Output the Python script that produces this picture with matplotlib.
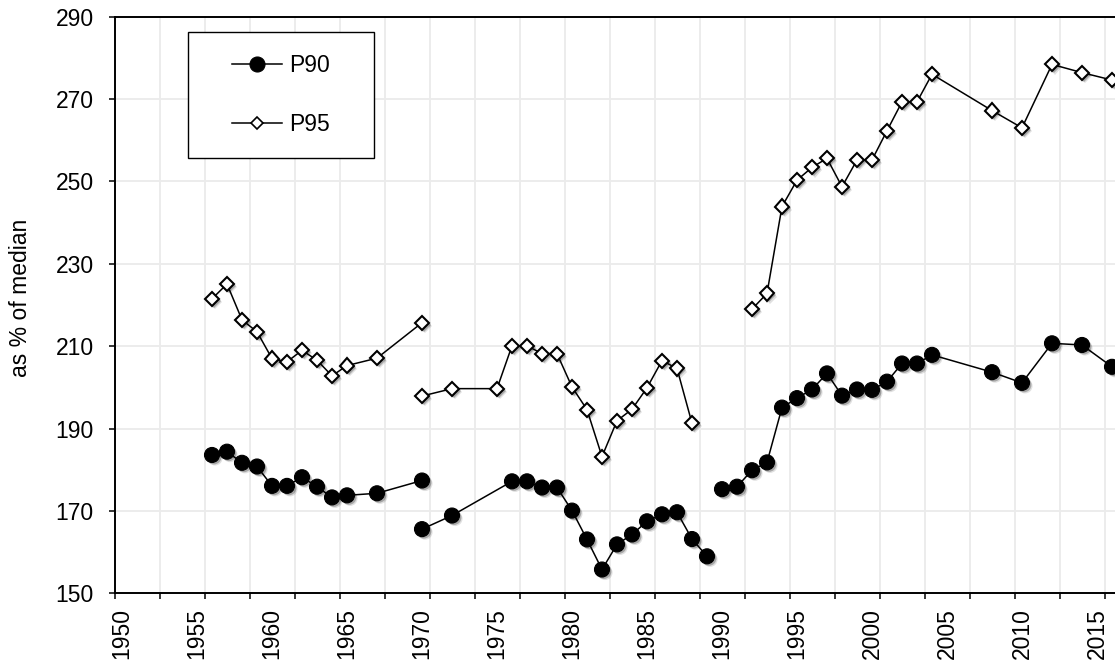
import numpy as np
import matplotlib
matplotlib.use("Agg")
import matplotlib.pyplot as plt
import matplotlib.patheffects as pe
import matplotlib.transforms as mtransforms
from matplotlib.lines import Line2D
from matplotlib.patches import Rectangle
from matplotlib.ticker import MultipleLocator, FixedLocator, NullFormatter

plt.rcParams['font.family'] = ['Liberation Sans', 'DejaVu Sans']

# ---------------- data ----------------
p90_years_1 = [1956, 1957, 1958, 1959, 1960, 1961, 1962, 1963, 1964, 1965, 1967, 1970]
p90_vals_1 = [183.6, 184.4, 181.7, 180.8, 176.1, 176.1, 178.2, 175.9, 173.3, 173.8, 174.3, 177.4]
p95_years_1 = [1956, 1957, 1958, 1959, 1960, 1961, 1962, 1963, 1964, 1965, 1967, 1970]
p95_vals_1 = [221.5, 225.1, 216.4, 213.5, 207.0, 206.2, 209.0, 206.6, 202.8, 205.3, 207.1, 215.7]

p90_years_2 = [1970, 1972, 1976, 1977, 1978, 1979, 1980, 1981, 1982, 1983, 1984, 1985,
               1986, 1987, 1988, 1989]
p90_vals_2 = [165.6, 168.9, 177.2, 177.2, 175.7, 175.7, 170.1, 163.1, 155.8, 161.9, 164.3,
              167.5, 169.2, 169.7, 163.2, 159.0]
p95_years_2 = [1970, 1972, 1975, 1976, 1977, 1978, 1979, 1980, 1981, 1982, 1983, 1984,
               1985, 1986, 1987, 1988]
p95_vals_2 = [197.9, 199.7, 199.7, 210.1, 210.1, 208.2, 208.2, 200.1, 194.6, 183.2, 191.9,
              194.7, 199.9, 206.5, 204.6, 191.3]

p90_years_3 = [1990, 1991, 1992, 1993, 1994, 1995, 1996, 1997, 1998, 1999, 2000, 2001,
               2002, 2003, 2004, 2008, 2010, 2012, 2014, 2016]
p90_vals_3 = [175.3, 175.9, 179.9, 181.8, 195.1, 197.4, 199.5, 203.4, 198.0, 199.5, 199.4,
              201.4, 205.8, 205.8, 207.9, 203.7, 201.1, 210.7, 210.3, 205.0]
p95_years_3 = [1992, 1993, 1994, 1995, 1996, 1997, 1998, 1999, 2000, 2001, 2002, 2003,
               2004, 2008, 2010, 2012, 2014, 2016]
p95_vals_3 = [219.0, 222.8, 243.9, 250.3, 253.4, 255.6, 248.7, 255.2, 255.2, 262.3, 269.3,
              269.3, 276.0, 267.2, 263.0, 278.4, 276.4, 274.6]

x_tick_labels = ['1950', '1955', '1960', '1965', '1970', '1975', '1980', '1985',
                 '1990', '1995', '2000', '2005', '2010', '2015']
y_ticks = [150, 170, 190, 210, 230, 250, 270, 290]
series_names = ['P90', 'P95']
y_title = 'as % of median'

# ---------------- figure ----------------
W, H = 1115, 664
fig = plt.figure(figsize=(W / 100, H / 100), dpi=100)
left = 114.5 / W
bottom = (H - 593.4) / H
top = (H - 16.6) / H
x_min, x_max = 1950, 2018
width = (x_max - x_min) * 15.0 / W
ax = fig.add_axes([left, bottom, width, top - bottom])
ax.set_xlim(x_min, x_max)
ax.set_ylim(150, 290)

FS = 16.5
grid_c = '#ebebeb'

# grid / ticks
ax.xaxis.set_major_locator(MultipleLocator(3))
ax.xaxis.set_major_formatter(NullFormatter())
ax.xaxis.set_minor_locator(FixedLocator([int(t) + 0.5 for t in x_tick_labels]))
ax.set_xticklabels(x_tick_labels, minor=True, rotation=90, fontsize=FS)
ax.tick_params(axis='x', which='major', length=4.6, width=1.1, direction='out', color='black')
ax.tick_params(axis='x', which='minor', length=0, pad=10.5)
ax.set_yticks(y_ticks)
ax.set_yticklabels([str(v) for v in y_ticks], fontsize=FS)
ax.tick_params(axis='y', length=4.1, width=1.1, pad=11)
ax.grid(True, which='major', color=grid_c, linewidth=1.3)
ax.set_axisbelow(True)

for s in ['left', 'bottom', 'top']:
    ax.spines[s].set_linewidth(1.4)
    ax.spines[s].set_color('black')
ax.spines['right'].set_visible(False)

ax.set_ylabel(y_title, fontsize=FS)
ax.yaxis.set_label_coords(32 / W, 0.513,
                          transform=mtransforms.blended_transform_factory(fig.transFigure, ax.transAxes))

shadow = [pe.SimplePatchShadow(offset=(2.2, -2.2), shadow_rgbFace='black', alpha=0.12),
          pe.SimplePatchShadow(offset=(1.4, -1.4), shadow_rgbFace='black', alpha=0.25),
          pe.Normal()]

p90_style = dict(marker='o', markersize=10.8, markerfacecolor='black', markeredgecolor='black',
                 markeredgewidth=0.8)
p95_style = dict(marker='D', markersize=7.2, markerfacecolor='white', markeredgecolor='black',
                 markeredgewidth=1.5)

segments = [
    (p90_years_1, p90_vals_1, p90_style),
    (p90_years_2, p90_vals_2, p90_style),
    (p90_years_3, p90_vals_3, p90_style),
    (p95_years_1, p95_vals_1, p95_style),
    (p95_years_2, p95_vals_2, p95_style),
    (p95_years_3, p95_vals_3, p95_style),
]
for yrs, vals, st in segments:
    xs = np.asarray(yrs, dtype=float) + 0.5  # mid-year position
    ax.plot(xs, vals, color='black', linewidth=1.1, zorder=2, solid_joinstyle='round')
    ax.plot(xs, vals, linestyle='none', zorder=3, path_effects=shadow, **st)

# legend
handles = [Line2D([], [], color='black', linewidth=1.1, **p90_style),
           Line2D([], [], color='black', linewidth=1.1,
                  **dict(p95_style, markersize=6.0, markeredgewidth=1.2))]
ax.add_patch(Rectangle((188 / W, 1 - 158 / H), 186 / W, 126 / H, transform=fig.transFigure,
                       facecolor='white', edgecolor='black', linewidth=1.0, zorder=4,
                       clip_on=False))
leg = ax.legend(handles, series_names, loc='center',
                bbox_to_anchor=(281 / W, 1 - 95.3 / H), bbox_transform=fig.transFigure,
                frameon=False, fontsize=FS, handlelength=2.2, handletextpad=0.3,
                labelspacing=1.57, borderpad=0)
leg.set_zorder(5)

fig.savefig('out.png', dpi=100)
